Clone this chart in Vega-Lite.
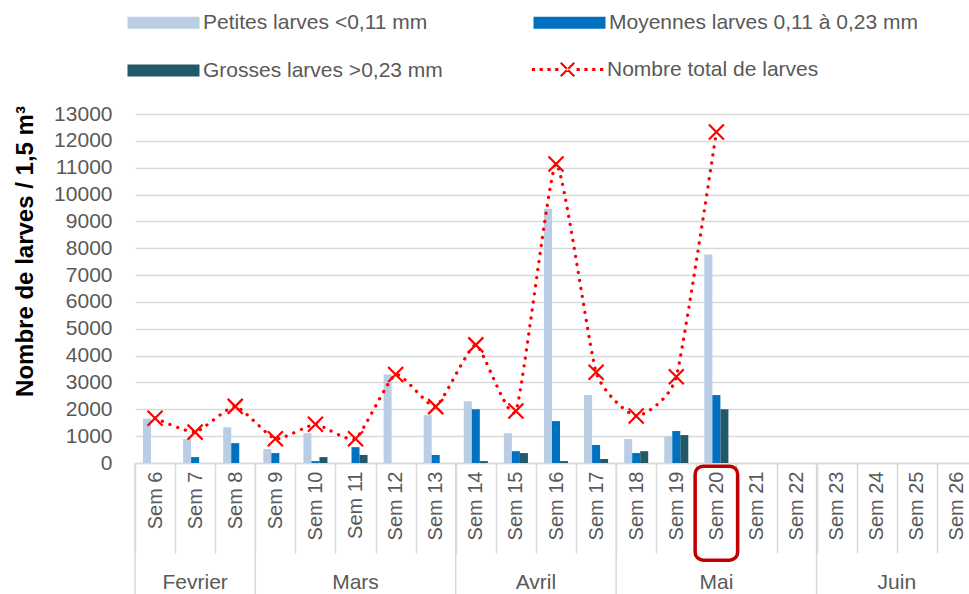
{
  "$schema": "https://vega.github.io/schema/vega-lite/v6.json",
  "width": 842,
  "height": 349,
  "autosize": {"type": "none"},
  "padding": {"left": 135, "top": 114, "right": -8, "bottom": 131},
  "background": "white",
  "config": {
    "font": "Liberation Sans",
    "view": {"stroke": null},
    "axisY": {"labelOverlap": false, "format": "d", "labelFontSize": 21, "labelColor": "#595959", "labelPadding": 23, "ticks": false, "domain": false, "grid": true, "gridColor": "#d9d9d9", "gridWidth": 1.5,
      "titleFontSize": 24, "titleFontWeight": "bold", "titleColor": "#000000", "titleX": -110, "titleY": 137, "titleBaseline": "middle", "titleAngle": -90}
  },
  "datasets": {
    "bars": [
      {"week": "Sem 6", "serie": "Petites larves <0,11 mm", "value": 1650},
      {"week": "Sem 7", "serie": "Petites larves <0,11 mm", "value": 890},
      {"week": "Sem 7", "serie": "Moyennes larves 0,11 à 0,23 mm", "value": 220},
      {"week": "Sem 8", "serie": "Petites larves <0,11 mm", "value": 1330},
      {"week": "Sem 8", "serie": "Moyennes larves 0,11 à 0,23 mm", "value": 740},
      {"week": "Sem 9", "serie": "Petites larves <0,11 mm", "value": 520},
      {"week": "Sem 9", "serie": "Moyennes larves 0,11 à 0,23 mm", "value": 370},
      {"week": "Sem 10", "serie": "Petites larves <0,11 mm", "value": 1110},
      {"week": "Sem 10", "serie": "Moyennes larves 0,11 à 0,23 mm", "value": 70},
      {"week": "Sem 10", "serie": "Grosses larves >0,23 mm", "value": 220},
      {"week": "Sem 11", "serie": "Moyennes larves 0,11 à 0,23 mm", "value": 590},
      {"week": "Sem 11", "serie": "Grosses larves >0,23 mm", "value": 300},
      {"week": "Sem 12", "serie": "Petites larves <0,11 mm", "value": 3300},
      {"week": "Sem 13", "serie": "Petites larves <0,11 mm", "value": 1780},
      {"week": "Sem 13", "serie": "Moyennes larves 0,11 à 0,23 mm", "value": 300},
      {"week": "Sem 14", "serie": "Petites larves <0,11 mm", "value": 2300},
      {"week": "Sem 14", "serie": "Moyennes larves 0,11 à 0,23 mm", "value": 2000},
      {"week": "Sem 14", "serie": "Grosses larves >0,23 mm", "value": 70},
      {"week": "Sem 15", "serie": "Petites larves <0,11 mm", "value": 1110},
      {"week": "Sem 15", "serie": "Moyennes larves 0,11 à 0,23 mm", "value": 440},
      {"week": "Sem 15", "serie": "Grosses larves >0,23 mm", "value": 370},
      {"week": "Sem 16", "serie": "Petites larves <0,11 mm", "value": 9470},
      {"week": "Sem 16", "serie": "Moyennes larves 0,11 à 0,23 mm", "value": 1560},
      {"week": "Sem 16", "serie": "Grosses larves >0,23 mm", "value": 70},
      {"week": "Sem 17", "serie": "Petites larves <0,11 mm", "value": 2530},
      {"week": "Sem 17", "serie": "Moyennes larves 0,11 à 0,23 mm", "value": 670},
      {"week": "Sem 17", "serie": "Grosses larves >0,23 mm", "value": 150},
      {"week": "Sem 18", "serie": "Petites larves <0,11 mm", "value": 890},
      {"week": "Sem 18", "serie": "Moyennes larves 0,11 à 0,23 mm", "value": 370},
      {"week": "Sem 18", "serie": "Grosses larves >0,23 mm", "value": 440},
      {"week": "Sem 19", "serie": "Petites larves <0,11 mm", "value": 990},
      {"week": "Sem 19", "serie": "Moyennes larves 0,11 à 0,23 mm", "value": 1190},
      {"week": "Sem 19", "serie": "Grosses larves >0,23 mm", "value": 1040},
      {"week": "Sem 20", "serie": "Petites larves <0,11 mm", "value": 7770},
      {"week": "Sem 20", "serie": "Moyennes larves 0,11 à 0,23 mm", "value": 2530},
      {"week": "Sem 20", "serie": "Grosses larves >0,23 mm", "value": 2000}
    ],
    "total": [
      {"week": "Sem 6", "total": 1670},
      {"week": "Sem 7", "total": 1150},
      {"week": "Sem 8", "total": 2110},
      {"week": "Sem 9", "total": 900},
      {"week": "Sem 10", "total": 1440},
      {"week": "Sem 11", "total": 900},
      {"week": "Sem 12", "total": 3300},
      {"week": "Sem 13", "total": 2100},
      {"week": "Sem 14", "total": 4400},
      {"week": "Sem 15", "total": 1940},
      {"week": "Sem 16", "total": 11140},
      {"week": "Sem 17", "total": 3380},
      {"week": "Sem 18", "total": 1750},
      {"week": "Sem 19", "total": 3210},
      {"week": "Sem 20", "total": 12330}
    ],
    "bounds": [
      {"week": "Sem 6"}, {"week": "Sem 9"}, {"week": "Sem 14"}, {"week": "Sem 18"}, {"week": "Sem 23"}
    ],
    "monthsCentered": [
      {"week": "Sem 7", "month": "Fevrier"},
      {"week": "Sem 11", "month": "Mars"},
      {"week": "Sem 20", "month": "Mai"}
    ],
    "monthsEdge": [
      {"week": "Sem 16", "month": "Avril"},
      {"week": "Sem 25", "month": "Juin"}
    ],
    "highlight": [{"week": "Sem 20"}]
  },
  "layer": [
    {
      "data": {"name": "bars"},
      "mark": {"type": "bar"},
      "encoding": {
        "x": {
          "field": "week", "type": "nominal", "sort": null,
          "scale": {"domain": ["Sem 6","Sem 7","Sem 8","Sem 9","Sem 10","Sem 11","Sem 12","Sem 13","Sem 14","Sem 15","Sem 16","Sem 17","Sem 18","Sem 19","Sem 20","Sem 21","Sem 22","Sem 23","Sem 24","Sem 25","Sem 26"], "paddingInner": 0, "paddingOuter": 0},
          "axis": {
            "title": null, "labelAngle": -90, "labelFontSize": 20, "labelColor": "#595959",
            "tickBand": "extent", "ticks": true, "tickSize": 90, "tickColor": "#d9d9d9", "tickWidth": 1.5,
            "labelPadding": -82, "domainColor": "#d9d9d9", "domainWidth": 1.5, "grid": false, "labelOverlap": false
          }
        },
        "xOffset": {
          "field": "serie", "type": "nominal",
          "scale": {"domain": ["Petites larves <0,11 mm", "Moyennes larves 0,11 à 0,23 mm", "Grosses larves >0,23 mm"], "paddingInner": 0, "paddingOuter": 1.14}
        },
        "y": {
          "field": "value", "type": "quantitative", "stack": null,
          "scale": {"domain": [0, 13000], "nice": false, "zero": false},
          "axis": {"title": "Nombre de larves / 1,5 m³", "values": [0,1000,2000,3000,4000,5000,6000,7000,8000,9000,10000,11000,12000,13000]}
        },
        "fill": {
          "field": "serie", "type": "nominal",
          "scale": {"domain": ["Petites larves <0,11 mm", "Moyennes larves 0,11 à 0,23 mm", "Grosses larves >0,23 mm"], "range": ["#B9CDE5", "#0070C0", "#215968"]},
          "legend": {
            "title": null, "orient": "none", "legendX": 18, "legendY": -102, "direction": "horizontal", "columns": 2,
            "symbolType": "M-6,-1H6V1H-6Z", "symbolSize": 144, "symbolStrokeWidth": 0,
            "labelFontSize": 21, "labelColor": "#595959", "labelOffset": 29, "labelLimit": 400,
            "columnPadding": 90, "rowPadding": 26, "padding": 0
          }
        }
      }
    },
    {
      "data": {"name": "bounds"},
      "mark": {"type": "rule", "color": "#d9d9d9", "strokeWidth": 1.5},
      "encoding": {
        "x": {"field": "week", "type": "nominal", "sort": null, "bandPosition": 0},
        "y": {"datum": 0, "type": "quantitative", "axis": {"title": "Nombre de larves / 1,5 m³", "values": [0,1000,2000,3000,4000,5000,6000,7000,8000,9000,10000,11000,12000,13000]}},
        "y2": {"datum": -4880}
      }
    },
    {
      "data": {"name": "monthsCentered"},
      "mark": {"type": "text", "fontSize": 21, "color": "#595959", "baseline": "middle", "align": "center"},
      "encoding": {
        "x": {"field": "week", "type": "nominal", "sort": null},
        "y": {"datum": -4470, "type": "quantitative", "axis": {"title": "Nombre de larves / 1,5 m³", "values": [0,1000,2000,3000,4000,5000,6000,7000,8000,9000,10000,11000,12000,13000]}},
        "text": {"field": "month"}
      }
    },
    {
      "data": {"name": "monthsEdge"},
      "mark": {"type": "text", "fontSize": 21, "color": "#595959", "baseline": "middle", "align": "center"},
      "encoding": {
        "x": {"field": "week", "type": "nominal", "sort": null, "bandPosition": 0},
        "y": {"datum": -4470, "type": "quantitative", "axis": {"title": "Nombre de larves / 1,5 m³", "values": [0,1000,2000,3000,4000,5000,6000,7000,8000,9000,10000,11000,12000,13000]}},
        "text": {"field": "month"}
      }
    },
    {
      "data": {"name": "highlight"},
      "mark": {"type": "rect", "width": 42.5, "cornerRadius": 8, "stroke": "#C00000", "strokeWidth": 3.5, "fill": null, "fillOpacity": 0},
      "encoding": {
        "x": {"field": "week", "type": "nominal", "sort": null},
        "y": {"datum": -120, "type": "quantitative", "axis": {"title": "Nombre de larves / 1,5 m³", "values": [0,1000,2000,3000,4000,5000,6000,7000,8000,9000,10000,11000,12000,13000]}},
        "y2": {"datum": -3620}
      }
    },
    {
      "data": {"name": "total"},
      "mark": {"type": "line", "interpolate": "cardinal", "tension": 0.5, "strokeDash": [0.1, 8], "strokeCap": "round", "strokeWidth": 3.3},
      "encoding": {
        "x": {"field": "week", "type": "nominal", "sort": null},
        "y": {"field": "total", "type": "quantitative", "axis": {"title": "Nombre de larves / 1,5 m³", "values": [0,1000,2000,3000,4000,5000,6000,7000,8000,9000,10000,11000,12000,13000]}},
        "stroke": {
          "datum": "Nombre total de larves", "type": "nominal",
          "scale": {"range": ["#FF0000"]},
          "legend": {
            "title": null, "orient": "none", "legendX": 422, "legendY": -55,
            "symbolType": "M-5.95,-0.27h0.54v0.54h-0.54Z M-4.65,-0.27h0.54v0.54h-0.54Z M-3.35,-0.27h0.54v0.54h-0.54Z M-2.05,-0.27h0.54v0.54h-0.54Z M1.51,-0.27h0.54v0.54h-0.54Z M2.81,-0.27h0.54v0.54h-0.54Z M4.11,-0.27h0.54v0.54h-0.54Z M5.41,-0.27h0.54v0.54h-0.54Z M-1.25,-1L-1,-1.25L1.25,1L1,1.25Z M-1.25,1L-1,1.25L1.25,-1L1,-1.25Z",
            "symbolSize": 144, "labelFontSize": 21, "labelColor": "#595959", "labelOffset": 29, "labelLimit": 400, "padding": 0,
            "encode": {"symbols": {"update": {"fill": {"value": "#FF0000"}, "strokeWidth": {"value": 0}, "strokeDash": {"value": []}}}}
          }
        }
      }
    },
    {
      "data": {"name": "total"},
      "mark": {"type": "point", "shape": "M-1,-1L1,1M-1,1L1,-1", "size": 225, "filled": false, "color": "#FF0000", "strokeWidth": 2.2, "opacity": 1},
      "encoding": {
        "x": {"field": "week", "type": "nominal", "sort": null},
        "y": {"field": "total", "type": "quantitative", "axis": {"title": "Nombre de larves / 1,5 m³", "values": [0,1000,2000,3000,4000,5000,6000,7000,8000,9000,10000,11000,12000,13000]}}
      }
    }
  ]
}
